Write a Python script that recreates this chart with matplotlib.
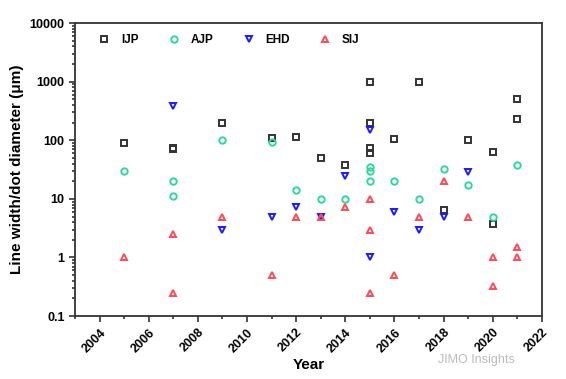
import matplotlib.pyplot as plt
from matplotlib.ticker import LogLocator, FixedLocator, MultipleLocator

plt.rcParams['font.family'] = ['Liberation Sans', 'DejaVu Sans']
plt.rcParams['font.weight'] = 'bold'

# values
ijp_years = [2005, 2007, 2007, 2009, 2011, 2012, 2013, 2014, 2015, 2015, 2015, 2015,
             2016, 2017, 2018, 2019, 2020, 2020, 2021, 2021]
ijp_vals = [90, 70, 75, 200, 110, 115, 50, 38, 1000, 200, 75, 60,
            105, 1000, 6.5, 100, 63, 3.8, 500, 230]

ajp_years = [2005, 2007, 2007, 2009, 2011, 2012, 2013, 2014, 2015, 2015, 2015,
             2016, 2017, 2018, 2019, 2020, 2021]
ajp_vals = [30, 20, 11, 100, 95, 14, 10, 10, 35, 30, 20,
            20, 10, 33, 17.5, 5, 38]

ehd_years = [2007, 2009, 2011, 2012, 2013, 2014, 2015, 2015, 2016, 2017, 2018, 2019]
ehd_vals = [390, 3, 5, 7.3, 5, 25, 150, 1, 6, 3, 5, 29]

sij_years = [2005, 2007, 2007, 2009, 2011, 2012, 2013, 2014, 2015, 2015, 2015,
             2016, 2017, 2018, 2019, 2020, 2020, 2021, 2021]
sij_vals = [1, 2.5, 0.25, 5, 0.5, 5, 5, 7.3, 10, 3, 0.25,
            0.5, 5, 20, 5, 1, 0.32, 1.5, 1]

series = [
    ('IJP', ijp_years, ijp_vals, 's', '#333333'),
    ('AJP', ajp_years, ajp_vals, 'o', '#2fd89a'),
    ('EHD', ehd_years, ehd_vals, 'v', '#1a1aff'),
    ('SIJ', sij_years, sij_vals, '^', '#ff4a55'),
]

fig = plt.figure(figsize=(5.66, 3.79), dpi=100)
ax = fig.add_axes([0.1325, 0.166, 0.825, 0.773])

for name, xs, ys, mk, col in series:
    ax.plot(xs, ys, linestyle='none', marker=mk, markersize=4.6,
            markerfacecolor='none', markeredgecolor=col, markeredgewidth=1.4,
            label=name)

ax.set_yscale('log')
ax.set_ylim(0.1, 10000)
ax.set_xlim(2003, 2022)

ax.yaxis.set_major_locator(FixedLocator([0.1, 1, 10, 100, 1000, 10000]))
ax.set_yticklabels(['0.1', '1', '10', '100', '1000', '10000'])
ax.yaxis.set_minor_locator(LogLocator(base=10, subs=range(2, 10), numticks=20))
ax.xaxis.set_major_locator(MultipleLocator(2))
ax.xaxis.set_minor_locator(MultipleLocator(1))

ax.tick_params(which='both', direction='out', top=False, right=False,
               color='#333333', width=1.2)
ax.tick_params(which='major', length=4, labelsize=9)
ax.tick_params(which='minor', length=2)
plt.setp(ax.get_xticklabels(), rotation=45, ha='right', rotation_mode='anchor')
for lab in ax.get_xticklabels() + ax.get_yticklabels():
    lab.set_fontweight('bold')

for sp in ax.spines.values():
    sp.set_color('#333333')
    sp.set_linewidth(1.3)

ax.set_xlabel('Year', fontsize=11, fontweight='bold', labelpad=2)
ax.set_ylabel('Line width/dot diameter (μm)', fontsize=11, fontweight='bold', labelpad=4)

ax.legend(loc='upper left', bbox_to_anchor=(0.025, 1.0), ncol=4, frameon=False,
          handletextpad=0.8, columnspacing=2.4, handlelength=1.2,
          prop={'weight': 'bold', 'size': 8.5})

fig.text(0.91, 0.05, 'JIMO Insights', fontsize=9, color='#bbbbbb',
         ha='right', va='center', fontweight='normal')

fig.savefig('out.png', dpi=100)
